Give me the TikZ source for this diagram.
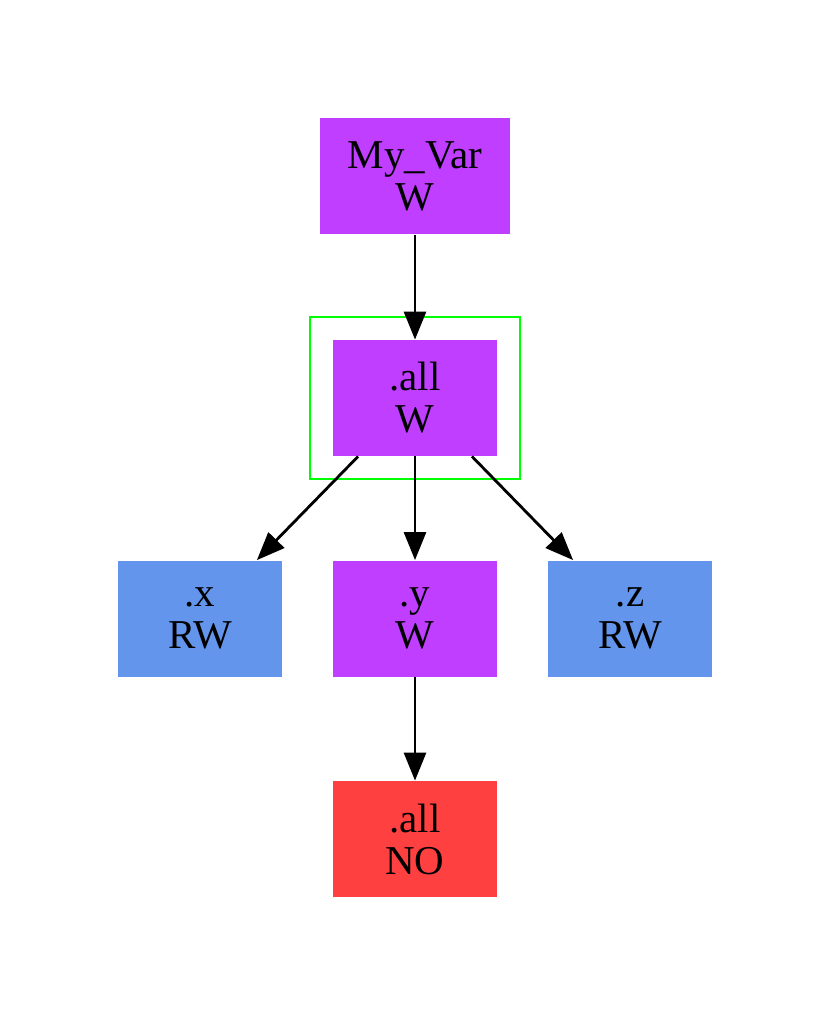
\documentclass[tikz,border=0pt]{standalone}
\usepackage{fontspec}
\setmainfont{Liberation Serif}
\usetikzlibrary{arrows.meta,fit}
\definecolor{wcol}{HTML}{BF3EFF}
\definecolor{rwcol}{HTML}{6495ED}
\definecolor{nocol}{HTML}{FF4040}
\tikzset{
  box/.style={rectangle, inner sep=0pt, minimum width=82pt, minimum height=58pt,
    align=center, font=\fontsize{20.5}{21}\selectfont},
  wbox/.style={box, fill=wcol},
  rwbox/.style={box, fill=rwcol},
  nobox/.style={box, fill=nocol},
  edge/.style={draw=black, line width=1.4pt, -{Triangle[length=14pt,width=11pt]}}
}
\begin{document}
\begin{tikzpicture}[x=0.5pt,y=-0.5pt]
\useasboundingbox (0,0) rectangle (830,1016);
\node[wbox, minimum width=95pt] (var) at (415,176.5) {My\_Var\\W};
\node[wbox] (all) at (415,398) {.all\\W};
\node[draw=green, line width=1pt, inner xsep=11.5pt, inner ysep=11.5pt, fit=(all)] (grp) {};
\node[rwbox] (x) at (200,618.5) {.x\\RW};
\node[wbox] (y) at (415,618.5) {.y\\W};
\node[rwbox] (z) at (630,618.5) {.z\\RW};
\node[nobox] (none) at (415,839) {.all\\NO};
\draw[edge] (var) -- (all);
\draw[edge] (all) -- (x);
\draw[edge] (all) -- (y);
\draw[edge] (all) -- (z);
\draw[edge] (y) -- (none);
\end{tikzpicture}
\end{document}
